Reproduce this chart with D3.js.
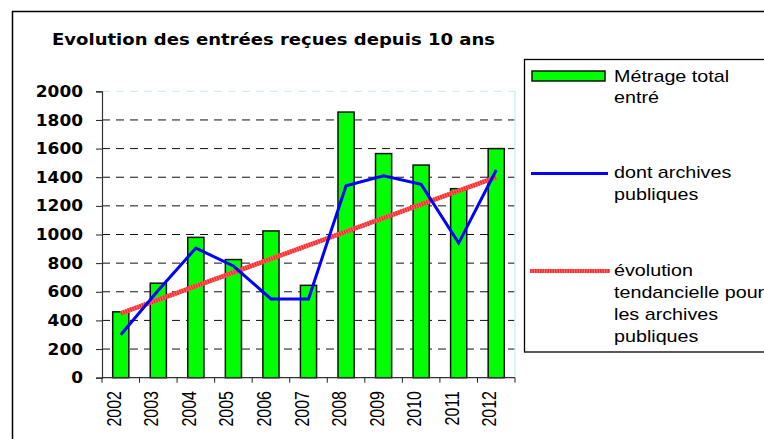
<!DOCTYPE html>
<html>
<head>
<meta charset="utf-8">
<script src="https://cdn.jsdelivr.net/npm/d3@7"></script>
<style>
  body { margin: 0; background: #fff; }
  svg { display: block; }
</style>
</head>
<body>
<svg id="chart" width="764" height="439"></svg>
<script>
// values
const years = ['2002', '2003', '2004', '2005', '2006', '2007', '2008', '2009', '2010', '2011', '2012'];
const metrageTotal = [460, 660, 980, 825, 1025, 645, 1855, 1565, 1485, 1320, 1600];
const archivesPubliques = [300, 610, 905, 780, 550, 550, 1340, 1410, 1350, 940, 1450];
const trendYears = ['2002', '2012'];
const trendValues = [450, 1400];
const yTicks = [0, 200, 400, 600, 800, 1000, 1200, 1400, 1600, 1800, 2000];

const svg = d3.select('svg#chart');

// outer chart frame
svg.append('rect')
  .attr('x', 12.5).attr('y', 11.5)
  .attr('width', 800).attr('height', 500)
  .attr('fill', '#fff').attr('stroke', '#000').attr('stroke-width', 1.5);

svg.append('text')
  .attr('x', 52).attr('y', 45)
  .attr('font-family', 'DejaVu Sans').attr('font-weight', 'bold')
  .attr('font-size', 16)
  .attr('textLength', 443).attr('lengthAdjust', 'spacingAndGlyphs')
  .text('Evolution des entrées reçues depuis 10 ans');

const plot = {left: 102, right: 515, top: 91.3, bottom: 377.7};

const x = d3.scaleBand().domain(years).range([plot.left, plot.right]);
const y = d3.scaleLinear().domain([0, 2000]).range([plot.bottom, plot.top]);
const cx = d => x(d) + x.bandwidth() / 2;
const barW = x.bandwidth() * 0.43;

// grid lines
svg.append('g')
  .selectAll('line')
  .data(yTicks.filter(v => v > 0))
  .enter().append('line')
  .attr('x1', plot.left).attr('x2', plot.right)
  .attr('y1', d => y(d)).attr('y2', d => y(d))
  .attr('stroke', d => d === 2000 ? '#c4f0f0' : '#111')
  .attr('stroke-width', 1)
  .attr('stroke-dasharray', '8,6');

// right border of plot area
svg.append('line')
  .attr('x1', plot.right).attr('x2', plot.right)
  .attr('y1', plot.top).attr('y2', plot.bottom)
  .attr('stroke', '#c8f4f4').attr('stroke-width', 1.5);

// y axis
const yAxis = d3.axisLeft(y).tickValues(yTicks).tickFormat(d3.format('d'))
  .tickSize(6).tickPadding(13);
const gy = svg.append('g')
  .attr('transform', `translate(${plot.left},0)`)
  .call(yAxis);
gy.select('.domain').attr('stroke', '#333').attr('stroke-width', 1.2);
gy.selectAll('.tick line').attr('stroke', '#222');
gy.selectAll('.tick text')
  .attr('font-family', 'DejaVu Sans').attr('font-weight', 'bold')
  .attr('font-size', 16).attr('fill', '#000')
  .attr('textLength', d => String(d).length * 11.8)
  .attr('lengthAdjust', 'spacingAndGlyphs');

// bars
svg.append('g')
  .selectAll('rect')
  .data(years)
  .enter().append('rect')
  .attr('x', (d) => cx(d) - barW / 2)
  .attr('width', barW)
  .attr('y', (d, i) => y(metrageTotal[i]))
  .attr('height', (d, i) => plot.bottom - y(metrageTotal[i]))
  .attr('fill', '#00ff00')
  .attr('stroke', '#111').attr('stroke-width', 1.5);

// x axis
const gx = svg.append('g')
  .attr('transform', `translate(0,${plot.bottom})`);
gx.append('line')
  .attr('x1', plot.left).attr('x2', plot.right)
  .attr('stroke', '#333').attr('stroke-width', 1.2);
gx.selectAll('.xtick')
  .data(years.concat(['end']))
  .enter().append('line')
  .attr('class', 'xtick')
  .attr('x1', (d, i) => plot.left + i * x.step())
  .attr('x2', (d, i) => plot.left + i * x.step())
  .attr('y1', 0).attr('y2', 5)
  .attr('stroke', '#222');
gx.selectAll('text')
  .data(years)
  .enter().append('text')
  .attr('transform', d => `translate(${cx(d)},13.3) rotate(-90) scale(1,1.22)`)
  .attr('text-anchor', 'end')
  .attr('font-family', 'Liberation Sans, Arial, sans-serif').attr('font-size', 16)
  .text(d => d);

// trend line
const trendLine = d3.line()
  .x(d => cx(d[0]))
  .y(d => y(d[1]));
const trendData = trendYears.map((d, i) => [d, trendValues[i]]);
svg.append('path')
  .attr('d', trendLine(trendData))
  .attr('fill', 'none')
  .attr('stroke', '#ff7070').attr('stroke-width', 4.5);
svg.append('path')
  .attr('d', trendLine(trendData))
  .attr('fill', 'none')
  .attr('stroke', '#ff2a2a').attr('stroke-width', 4.5)
  .attr('stroke-dasharray', '1.5,1');

// blue line
const blueLine = d3.line()
  .x(d => cx(d[0]))
  .y(d => y(d[1]));
svg.append('path')
  .attr('d', blueLine(years.map((d, i) => [d, archivesPubliques[i]])))
  .attr('fill', 'none')
  .attr('stroke', '#0000ff').attr('stroke-width', 3)
  .attr('stroke-linejoin', 'miter');

// legend
const legend = svg.append('g');
legend.append('rect')
  .attr('x', 524.5).attr('y', 59.5)
  .attr('width', 300).attr('height', 292.5)
  .attr('fill', '#fff').attr('stroke', '#000').attr('stroke-width', 1.3);

legend.append('rect')
  .attr('x', 532).attr('y', 71)
  .attr('width', 73).attr('height', 10)
  .attr('fill', '#00ff00').attr('stroke', '#111').attr('stroke-width', 1.5);
legend.append('line')
  .attr('x1', 531).attr('x2', 608).attr('y1', 173.5).attr('y2', 173.5)
  .attr('stroke', '#0000ff').attr('stroke-width', 3);
legend.append('line')
  .attr('x1', 530).attr('x2', 610).attr('y1', 271).attr('y2', 271)
  .attr('stroke', '#ff7070').attr('stroke-width', 4);
legend.append('line')
  .attr('x1', 530).attr('x2', 610).attr('y1', 271).attr('y2', 271)
  .attr('stroke', '#ff2a2a').attr('stroke-width', 4)
  .attr('stroke-dasharray', '1.5,1');

const legendLines = [
  ['Métrage total', 82], ['entré', 103],
  ['dont archives', 178], ['publiques', 200],
  ['évolution', 276], ['tendancielle pour', 298], ['les archives', 320], ['publiques', 342]
];
legend.selectAll('text.lbl')
  .data(legendLines)
  .enter().append('text')
  .attr('class', 'lbl')
  .attr('transform', d => `translate(614,${d[1]}) scale(1.16,1)`)
  .attr('font-family', 'Liberation Sans, Arial, sans-serif')
  .attr('font-size', 17)
  .text(d => d[0]);
</script>
</body>
</html>
